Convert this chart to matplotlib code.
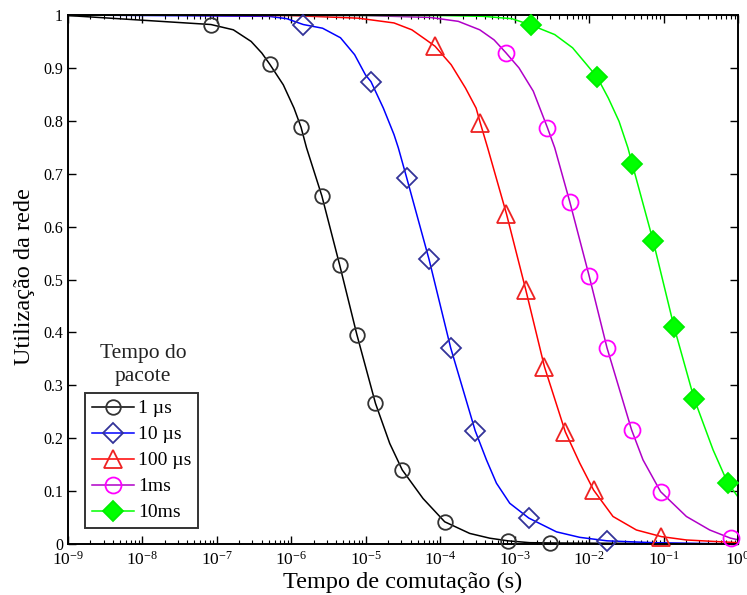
import numpy as np
import matplotlib
matplotlib.use("Agg")
import matplotlib.pyplot as plt
from matplotlib.lines import Line2D
from matplotlib.ticker import LogLocator, FixedLocator, NullLocator

plt.rcParams['font.family'] = ['Liberation Serif', 'DejaVu Serif']
plt.rcParams['mathtext.fontset'] = 'stix'

# ---- data (x as log10 of switching time, y = utilisation) ----
series_labels = ['1 \u00b5s', '10 \u00b5s', '100 \u00b5s', '1ms', '10ms']

# marker points
mk_lx_1us = [-7.08, -6.29, -5.87, -5.59, -5.35, -5.12, -4.87, -4.51, -3.94, -3.09, -2.52]
mk_y_1us = [0.982, 0.907, 0.788, 0.658, 0.527, 0.396, 0.266, 0.140, 0.042, 0.006, 0.002]
mk_lx_10us = [-5.84, -4.93, -4.45, -4.15, -3.86, -3.53, -2.81, -1.76]
mk_y_10us = [0.982, 0.874, 0.692, 0.538, 0.371, 0.214, 0.049, 0.006]
mk_lx_100us = [-4.07, -3.46, -3.11, -2.85, -2.60, -2.32, -1.94, -1.03]
mk_y_100us = [0.941, 0.795, 0.624, 0.480, 0.335, 0.212, 0.102, 0.014]
mk_lx_1ms = [-3.12, -2.56, -2.26, -2.00, -1.76, -1.43, -1.04, -0.10]
mk_y_1ms = [0.929, 0.787, 0.647, 0.507, 0.371, 0.216, 0.099, 0.011]
mk_lx_10ms = [-2.78, -1.89, -1.42, -1.14, -0.86, -0.59, -0.14]
mk_y_10ms = [0.981, 0.882, 0.718, 0.573, 0.411, 0.275, 0.116]

# additional points (between markers)
ln_lx_1us = [-9.0, -6.779, -6.540, -6.396, -6.108, -5.964, -5.796, -4.678, -4.231,
             -3.604, -3.335, -2.798, 0.0]
ln_y_1us = [0.999, 0.972, 0.950, 0.928, 0.868, 0.824, 0.749, 0.190, 0.086,
            0.020, 0.011, 0.0025, 0.0]
ln_lx_10us = [-9.0, -6.30, -6.06, -5.58, -5.34, -5.15, -5.005, -4.764, -4.621, -4.563,
              -3.379, -3.245, -3.066, -2.439, -2.126, -1.14, 0.0]
ln_y_10us = [1.0, 0.9975, 0.993, 0.975, 0.957, 0.925, 0.887, 0.824, 0.774, 0.749,
             0.159, 0.115, 0.077, 0.023, 0.0126, 0.0025, 0.0]
ln_lx_100us = [-9.0, -6.0, -5.10, -4.621, -4.381, -4.189, -3.853, -3.661, -3.518, -3.363,
               -2.126, -1.679, -1.365, -0.693, 0.0]
ln_y_100us = [1.0, 0.999, 0.994, 0.985, 0.972, 0.953, 0.906, 0.862, 0.824, 0.749,
              0.153, 0.052, 0.0265, 0.0076, 0.0025]
ln_lx_1ms = [-9.0, -5.0, -4.141, -3.757, -3.469, -3.277, -2.942, -2.750, -2.462,
             -1.276, -0.693, -0.380, 0.0]
ln_y_1ms = [1.0, 0.999, 0.9955, 0.988, 0.972, 0.953, 0.900, 0.856, 0.749,
            0.159, 0.052, 0.0265, 0.008]
ln_lx_10ms = [-9.0, -4.0, -3.42, -3.038, -2.462, -2.222, -2.031, -1.742, -1.598, -1.479,
              -0.335, 0.0]
ln_y_10ms = [1.0, 0.999, 0.9975, 0.993, 0.963, 0.938, 0.906, 0.843, 0.799, 0.749,
             0.178, 0.089]

y_ticks = [0, 0.1, 0.2, 0.3, 0.4, 0.5, 0.6, 0.7, 0.8, 0.9, 1]
y_ticklabels = ['0', '0.1', '0.2', '0.3', '0.4', '0.5', '0.6', '0.7', '0.8', '0.9', '1']

# ---- styles ----
styles = [
    dict(line='#000000', marker='o', mec='#333333', mfc='none', ms=10.5),
    dict(line='#0000ff', marker='D', mec='#333399', mfc='none', ms=10.5),
    dict(line='#ff0000', marker='^', mec='#ee2222', mfc='none', ms=12.5),
    dict(line='#b000c8', marker='o', mec='#ff00ff', mfc='none', ms=11.5),
    dict(line='#00ff00', marker='D', mec='#00ee00', mfc='#00ff00', ms=10.5),
]

markers_lx = [mk_lx_1us, mk_lx_10us, mk_lx_100us, mk_lx_1ms, mk_lx_10ms]
markers_y = [mk_y_1us, mk_y_10us, mk_y_100us, mk_y_1ms, mk_y_10ms]
lines_lx = [ln_lx_1us, ln_lx_10us, ln_lx_100us, ln_lx_1ms, ln_lx_10ms]
lines_y = [ln_y_1us, ln_y_10us, ln_y_100us, ln_y_1ms, ln_y_10ms]

fig = plt.figure(figsize=(7.47, 5.95), dpi=100)
ax = fig.add_axes([68 / 747, 1 - 544 / 595, 670 / 747, 529 / 595])

handles = []
for st, mlx, my, llx, ly, lab in zip(styles, markers_lx, markers_y, lines_lx, lines_y, series_labels):
    allx = np.concatenate([np.array(mlx), np.array(llx)])
    ally = np.concatenate([np.array(my), np.array(ly)])
    order = np.argsort(allx)
    ax.plot(10.0 ** allx[order], ally[order], color=st['line'], lw=1.1, zorder=2,
            solid_joinstyle='round')
    ax.plot(10.0 ** np.array(mlx), my, ls='none', marker=st['marker'], ms=st['ms'],
            mec=st['mec'], mfc=st['mfc'], mew=1.3, clip_on=False, zorder=3)
    handles.append(Line2D([], [], color=st['line'], lw=1.1, marker=st['marker'], ms=st['ms'],
                          mec=st['mec'], mfc=st['mfc'], mew=1.3))

ax.set_xscale('log')
ax.set_xlim(1e-9, 1e0)
ax.set_ylim(0, 1)
ax.xaxis.set_major_locator(LogLocator(base=10, numticks=20))
ax.xaxis.set_minor_locator(LogLocator(base=10, subs=np.arange(2, 10), numticks=100))
ax.yaxis.set_major_locator(FixedLocator(y_ticks))
ax.set_yticklabels(y_ticklabels)
ax.yaxis.set_minor_locator(NullLocator())

ax.tick_params(which='both', direction='in', top=True, right=True, labelsize=11.5)
ax.tick_params(axis='x', labelsize=12.5, pad=5)
ax.tick_params(which='major', length=6, width=1.0)
ax.tick_params(which='minor', length=3, width=0.8)
for sp in ax.spines.values():
    sp.set_linewidth(1.4)

ax.set_xlabel('Tempo de comutação (s)', fontsize=17.5)
ax.set_ylabel('Utilização da rede', fontsize=17.5)
ax.xaxis.set_label_coords(0.5, -0.053)
ax.yaxis.set_label_coords(-0.049, 0.505)

leg = ax.legend(handles, series_labels, loc='lower left', bbox_to_anchor=(0.025, 0.03),
                borderaxespad=0, fontsize=14, frameon=True, fancybox=False,
                handlelength=2.2, handletextpad=0.2, labelspacing=0.43,
                borderpad=0.35)
leg.get_frame().set_edgecolor('black')
leg.get_frame().set_linewidth(1.4)

ax.text(0.112, 0.339, 'Tempo do\npacote', transform=ax.transAxes, ha='center', va='center',
        fontsize=15.5, color='#222222', linespacing=1.3)

fig.savefig('out.png', dpi=100)
